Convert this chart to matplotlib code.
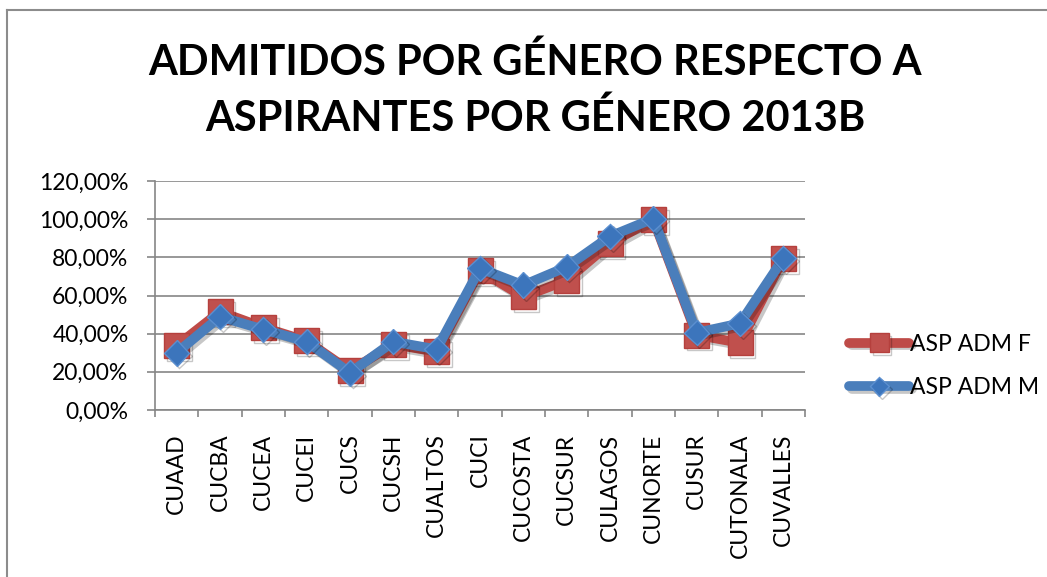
import matplotlib
matplotlib.use("Agg")
import matplotlib.pyplot as plt
import matplotlib.patheffects as pe
from matplotlib.ticker import FuncFormatter, FixedLocator, MultipleLocator
from matplotlib.lines import Line2D

categories = ["CUAAD", "CUCBA", "CUCEA", "CUCEI", "CUCS", "CUCSH", "CUALTOS", "CUCI",
              "CUCOSTA", "CUCSUR", "CULAGOS", "CUNORTE", "CUSUR", "CUTONALA", "CUVALLES"]
asp_adm_f = [33.7, 51.5, 43.3, 36.2, 20.5, 34.4, 30.5, 73.0, 59.3, 68.0, 87.3, 99.8, 39.3, 35.2, 79.4]
asp_adm_m = [30.0, 48.9, 42.2, 35.8, 19.5, 35.8, 31.8, 74.2, 65.4, 75.0, 91.0, 100.3, 40.5, 45.4, 79.4]
title = "ADMITIDOS POR GÉNERO RESPECTO A\nASPIRANTES POR GÉNERO 2013B"

plt.rcParams['font.family'] = ['Lato', 'DejaVu Sans']

W, H = 1047, 577
fig = plt.figure(figsize=(W / 100, H / 100), dpi=100)
ax = fig.add_axes([155 / W, 1 - 410 / H, 650 / W, 229 / H])

grid_c = "#868686"
x = list(range(len(categories)))
shadow = [pe.SimpleLineShadow(offset=(2, -2), shadow_color="black", alpha=0.22), pe.Normal()]

ax.plot(x, asp_adm_f, color="#BE4B48", lw=7, marker="s", ms=18,
        mfc="#C0504D", mec="#B5403D", mew=1, solid_joinstyle="round",
        solid_capstyle="round", label="ASP ADM F", path_effects=shadow, zorder=3)
ax.plot(x, asp_adm_m, color="#4A7EBB", lw=7, marker="D", ms=13,
        mfc="#3C75BC", mec="#5B8FD0", mew=1, solid_joinstyle="round",
        solid_capstyle="round", label="ASP ADM M", path_effects=shadow, zorder=4)

ax.set_xlim(-0.5, len(categories) - 0.5)
ax.set_ylim(0, 120)
ax.yaxis.set_major_locator(MultipleLocator(20))
ax.yaxis.set_major_formatter(FuncFormatter(lambda v, p: f"{v:.2f}".replace(".", ",") + "%"))
ax.grid(axis="y", color=grid_c, lw=1.2)
ax.set_axisbelow(True)

ax.set_xticks(x)
ax.set_xticklabels(categories, rotation=90, va="top", ha="center")
ax.xaxis.set_minor_locator(FixedLocator([i - 0.5 for i in range(len(categories) + 1)]))
ax.tick_params(axis="x", which="major", length=0, pad=17, labelsize=16.5)
ax.tick_params(axis="x", which="minor", length=5, width=1.2, color=grid_c)
ax.tick_params(axis="y", which="major", length=6, width=1.2, color=grid_c, pad=13, labelsize=16.5)

for s in ["top", "right"]:
    ax.spines[s].set_visible(False)
for s in ["left", "bottom"]:
    ax.spines[s].set_color(grid_c)
    ax.spines[s].set_linewidth(1.2)

fig.text(535 / W, 1 - 90 / H, title, ha="center", va="center", fontsize=30,
         fontweight="bold", linespacing=1.5)

leg = ax.legend(loc="center left", bbox_to_anchor=(838 / W, 1 - 366 / H),
                bbox_transform=fig.transFigure, frameon=False, fontsize=16.5,
                handlelength=2.6, handletextpad=0.05, labelspacing=1.0, borderpad=0,
                markerscale=0.75)

# outer chart border (top and left visible)
fig.add_artist(Line2D([7 / W, 7 / W], [-0.1, 1 - 10 / H], transform=fig.transFigure,
                      color="#8C8C8C", lw=1.5))
fig.add_artist(Line2D([7 / W, 1.1], [1 - 10 / H, 1 - 10 / H], transform=fig.transFigure,
                      color="#8C8C8C", lw=1.5))

fig.savefig("out.png", dpi=100)
